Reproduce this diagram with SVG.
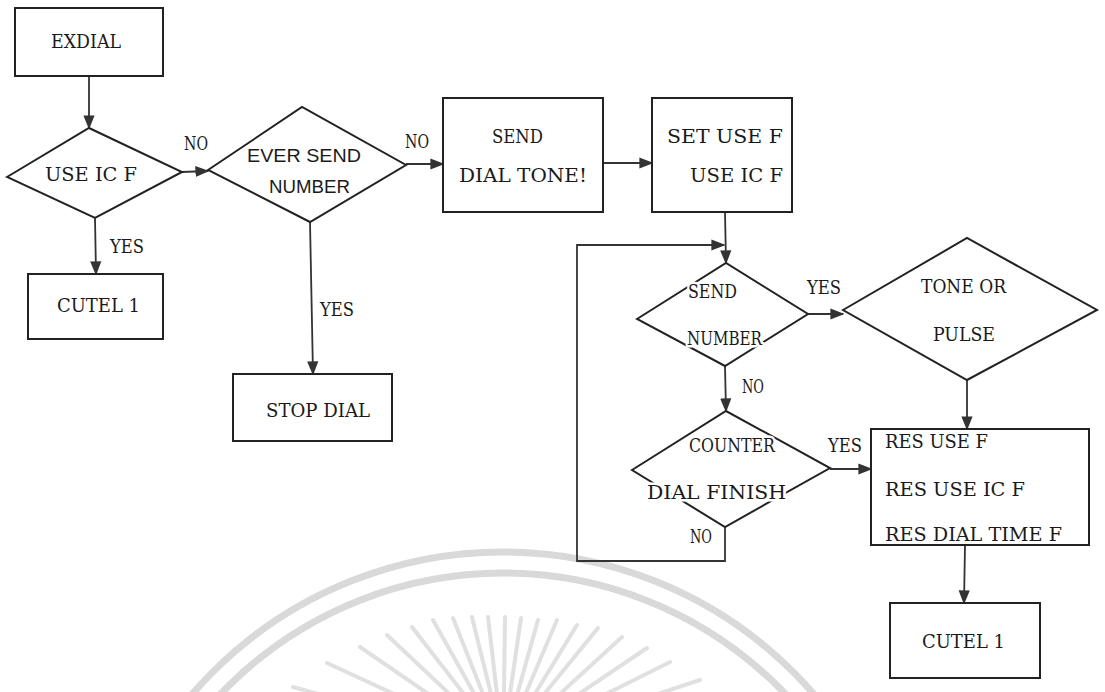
<svg xmlns="http://www.w3.org/2000/svg" width="1105" height="692" viewBox="0 0 1105 692">
<style>
.n{fill:#fff;stroke:#222;stroke-width:2}
.t{font-family:"DejaVu Serif","Liberation Serif",serif;font-size:18px;fill:#1a1a1a}
.h{font-family:"Liberation Sans",sans-serif;font-size:19px;fill:#1a1a1a}
.k{paint-order:stroke;stroke:#fff;stroke-width:5px;stroke-linejoin:round}
.c{fill:none;stroke:#333;stroke-width:1.8}
.w{fill:none;stroke:#d9d9d9}
.r{stroke:#e0e0e0;stroke-width:4;stroke-linecap:round}
</style>
<defs>
<marker id="b" viewBox="0 0 10 10" refX="9" refY="5" markerWidth="14" markerHeight="14" markerUnits="userSpaceOnUse" orient="auto"><path d="M0,1L10,5L0,9z" fill="#333"/></marker>
</defs>
<rect width="1105" height="692" fill="#fff"/>
<g id="watermark">
<circle class="w" stroke-width="7" cx="503" cy="963" r="411"/>
<circle class="w" stroke-width="7" cx="503" cy="963" r="390"/>
<g class="r">
<line x1="293" y1="687" x2="419" y2="722"/><line x1="327" y1="663" x2="433" y2="712"/><line x1="360" y1="647" x2="446" y2="706"/><line x1="387" y1="635" x2="457" y2="701"/><line x1="412" y1="627" x2="467" y2="698"/><line x1="433" y1="620" x2="475" y2="695"/><line x1="453" y1="618" x2="483" y2="694"/><line x1="472" y1="617" x2="491" y2="694"/><line x1="488" y1="617" x2="497" y2="694"/><line x1="505" y1="617" x2="504" y2="694"/><line x1="521" y1="618" x2="510" y2="694"/><line x1="538" y1="620" x2="517" y2="695"/><line x1="557" y1="620" x2="525" y2="695"/><line x1="577" y1="625" x2="533" y2="697"/><line x1="598" y1="628" x2="541" y2="698"/><line x1="622" y1="637" x2="551" y2="702"/><line x1="647" y1="648" x2="561" y2="706"/><line x1="670" y1="662" x2="570" y2="712"/><line x1="700" y1="680" x2="582" y2="719"/>
</g>
</g>
<g id="connectors">
<line class="c" x1="89" y1="77" x2="89" y2="128" marker-end="url(#b)"/>
<line class="c" x1="182" y1="172" x2="208" y2="171" marker-end="url(#b)"/>
<line class="c" x1="406" y1="164" x2="443" y2="164" marker-end="url(#b)"/>
<line class="c" x1="603" y1="163" x2="652" y2="163" marker-end="url(#b)"/>
<line class="c" x1="95" y1="218" x2="96" y2="274" marker-end="url(#b)"/>
<line class="c" x1="310" y1="222" x2="313" y2="374" marker-end="url(#b)"/>
<line class="c" x1="725" y1="212" x2="726" y2="263" marker-end="url(#b)"/>
<polyline class="c" points="725,527 725,561 577,561 577,245 724,245" marker-end="url(#b)"/>
<line class="c" x1="808" y1="314" x2="843" y2="314" marker-end="url(#b)"/>
<line class="c" x1="725" y1="366" x2="726" y2="411" marker-end="url(#b)"/>
<line class="c" x1="967" y1="380" x2="967" y2="429" marker-end="url(#b)"/>
<line class="c" x1="830" y1="469" x2="871" y2="469" marker-end="url(#b)"/>
<line class="c" x1="965" y1="545" x2="964" y2="603" marker-end="url(#b)"/>
<text class="t" x="184" y="150" textLength="24" lengthAdjust="spacingAndGlyphs">NO</text>
<text class="t" x="405" y="148" textLength="24" lengthAdjust="spacingAndGlyphs">NO</text>
<text class="t" x="110" y="253" textLength="34" lengthAdjust="spacingAndGlyphs">YES</text>
<text class="t" x="320" y="316" textLength="34" lengthAdjust="spacingAndGlyphs">YES</text>
<text class="t" x="807" y="294" textLength="34" lengthAdjust="spacingAndGlyphs">YES</text>
<text class="t" x="742" y="393" textLength="22" lengthAdjust="spacingAndGlyphs">NO</text>
<text class="t" x="828" y="452" textLength="34" lengthAdjust="spacingAndGlyphs">YES</text>
<text class="t" x="690" y="543" textLength="22" lengthAdjust="spacingAndGlyphs">NO</text>
</g>
<g id="exdial"><rect class="n" x="15" y="8" width="148" height="68"/><text class="t" x="51" y="48" textLength="70" lengthAdjust="spacingAndGlyphs">EXDIAL</text></g>
<g id="use-ic-f"><polygon class="n" points="7,177 89,128 182,172 95,218"/><text class="t" x="45" y="181" textLength="92" lengthAdjust="spacingAndGlyphs">USE IC F</text></g>
<g id="cutel1-left"><rect class="n" x="28" y="274" width="135" height="65"/><text class="t" x="57" y="312" textLength="83" lengthAdjust="spacingAndGlyphs">CUTEL 1</text></g>
<g id="ever-send-number"><polygon class="n" points="208,170 302,107 406,165 310,222"/><text class="h k" x="247" y="162" textLength="114" lengthAdjust="spacingAndGlyphs">EVER SEND</text><text class="h" x="269" y="193" textLength="81" lengthAdjust="spacingAndGlyphs">NUMBER</text></g>
<g id="stop-dial"><rect class="n" x="233" y="374" width="159" height="67"/><text class="t" x="266" y="417" textLength="104" lengthAdjust="spacingAndGlyphs">STOP DIAL</text></g>
<g id="send-dial-tone"><rect class="n" x="443" y="98" width="160" height="114"/><text class="t" x="492" y="143" textLength="51" lengthAdjust="spacingAndGlyphs">SEND</text><text class="t" x="459" y="182" textLength="128" lengthAdjust="spacingAndGlyphs">DIAL  TONE!</text></g>
<g id="set-use-f"><rect class="n" x="652" y="98" width="140" height="114"/><text class="t" x="667" y="143" textLength="116" lengthAdjust="spacingAndGlyphs">SET USE  F</text><text class="t" x="690" y="182" textLength="93" lengthAdjust="spacingAndGlyphs">USE IC F</text></g>
<g id="send-number"><polygon class="n" points="637,319 726,263 808,314 725,366"/><text class="t k" x="688" y="298" textLength="49" lengthAdjust="spacingAndGlyphs">SEND</text><text class="t k" x="687" y="345" textLength="75" lengthAdjust="spacingAndGlyphs">NUMBER</text></g>
<g id="tone-or-pulse"><polygon class="n" points="843,310 967,238 1097,310 967,380"/><text class="t" x="921" y="293" textLength="85" lengthAdjust="spacingAndGlyphs">TONE OR</text><text class="t" x="933" y="341" textLength="62" lengthAdjust="spacingAndGlyphs">PULSE</text></g>
<g id="counter-dial-finish"><polygon class="n" points="632,470 726,411 830,468 725,527"/><text class="t k" x="689" y="452" textLength="86" lengthAdjust="spacingAndGlyphs">COUNTER</text><text class="t k" x="647" y="499" textLength="139" lengthAdjust="spacingAndGlyphs">DIAL  FINISH</text></g>
<g id="res-box"><rect class="n" x="871" y="429" width="218" height="116"/><text class="t" x="885" y="448" textLength="103" lengthAdjust="spacingAndGlyphs">RES USE F</text><text class="t" x="885" y="496" textLength="140" lengthAdjust="spacingAndGlyphs">RES USE IC F</text><text class="t" x="885" y="541" textLength="177" lengthAdjust="spacingAndGlyphs">RES DIAL TIME F</text></g>
<g id="cutel1-right"><rect class="n" x="890" y="603" width="150" height="75"/><text class="t" x="922" y="648" textLength="83" lengthAdjust="spacingAndGlyphs">CUTEL 1</text></g>
</svg>
